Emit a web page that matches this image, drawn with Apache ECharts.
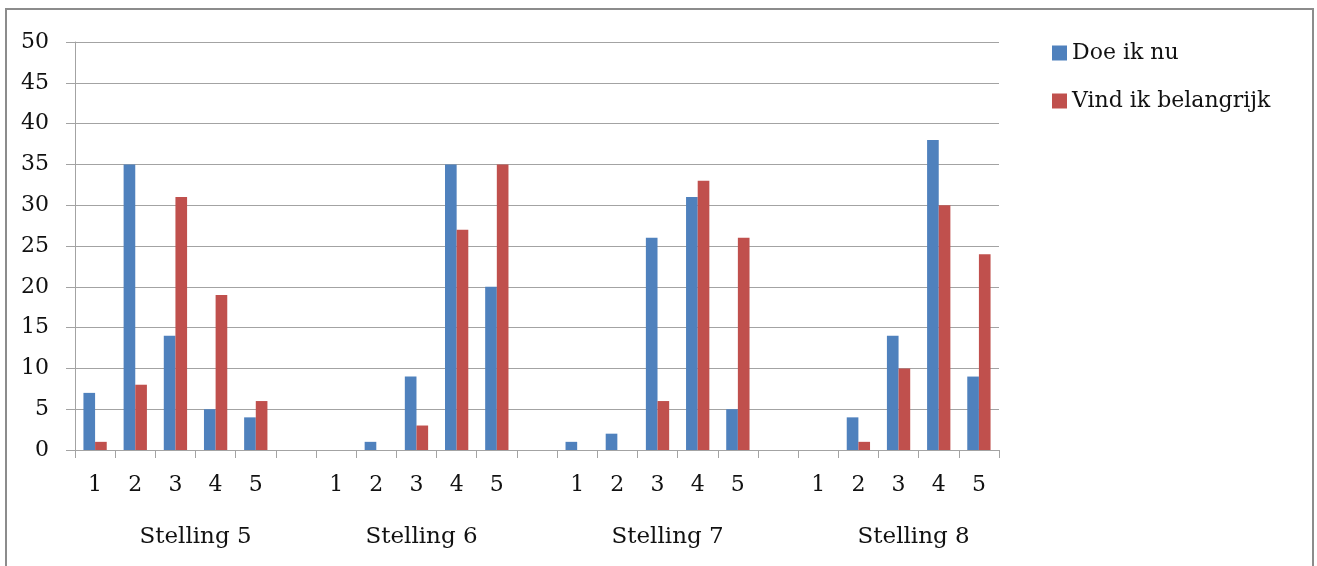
<!DOCTYPE html>
<html>
<head>
<meta charset="utf-8">
<script src="https://cdn.jsdelivr.net/npm/echarts@6/dist/echarts.min.js"></script>
<style>
  html, body { margin: 0; padding: 0; background: #fff; }
  #chart { position: absolute; left: 0; top: 0; width: 1317px; height: 566px; }
  #frame { position: absolute; left: 5px; top: 8px; width: 1305px; height: 600px;
           border: 2px solid #8c8c8c; pointer-events: none; }
</style>
</head>
<body>
<div id="chart"></div>
<div id="frame"></div>
<script>
// Answer scale 1..5 per statement; an empty slot separates the statements
const scaleLabels = ['1', '2', '3', '4', '5'];
const statements = ['Stelling 5', 'Stelling 6', 'Stelling 7', 'Stelling 8'];
const seriesNames = ['Doe ik nu', 'Vind ik belangrijk'];

// Counts per statement, answers 1..5
const doeIkNu = [
  [7, 35, 14, 5, 4],
  [0, 1, 9, 35, 20],
  [1, 2, 26, 31, 5],
  [0, 4, 14, 38, 9]
];
const vindIkBelangrijk = [
  [1, 8, 31, 19, 6],
  [0, 0, 3, 27, 35],
  [0, 0, 6, 33, 26],
  [0, 1, 10, 30, 24]
];

const yTicks = { min: 0, max: 50, interval: 5 };

// Flatten into one category axis with a blank slot between statements
const categories = [];
const blue = [];
const red = [];
statements.forEach((s, i) => {
  if (i > 0) { categories.push(''); blue.push(null); red.push(null); }
  scaleLabels.forEach((lab, j) => {
    categories.push(lab);
    blue.push(doeIkNu[i][j]);
    red.push(vindIkBelangrijk[i][j]);
  });
});

// Where each statement name sits along the category axis (in category units)
const statementLabelAt = [3, 8.625, 14.75, 20.875];

const serif = 'DejaVu Serif';
const gridColor = '#a3a3a3';
const textColor = '#111';

const chart = echarts.init(document.getElementById('chart'));
chart.setOption({
  animation: false,
  backgroundColor: '#ffffff',
  grid: { left: 75, right: 318, top: 42, bottom: 116, containLabel: false },
  legend: {
    orient: 'vertical',
    left: 1047,
    top: 37,
    itemWidth: 15,
    itemHeight: 15,
    itemGap: 26,
    icon: 'rect',
    textStyle: { fontFamily: serif, fontSize: 22, color: textColor },
    data: seriesNames
  },
  xAxis: [
    {
      type: 'category',
      data: categories,
      boundaryGap: true,
      axisLine: { show: true, lineStyle: { color: gridColor, width: 1 } },
      axisTick: { show: true, length: 8, lineStyle: { color: gridColor } },
      axisLabel: { interval: 0, margin: 24, fontFamily: serif, fontSize: 22, color: textColor }
    },
    {
      type: 'value',
      position: 'bottom',
      min: 0,
      max: categories.length,
      interval: 0.125,
      axisLine: { show: false },
      axisTick: { show: false },
      splitLine: { show: false },
      axisLabel: {
        margin: 76,
        fontFamily: serif,
        fontSize: 23,
        color: textColor,
        showMinLabel: true,
        showMaxLabel: true,
        formatter: function (v) {
          for (let k = 0; k < statements.length; k++) {
            if (Math.abs(v - statementLabelAt[k]) < 0.01) return statements[k];
          }
          return '';
        }
      }
    }
  ],
  yAxis: {
    type: 'value',
    min: yTicks.min,
    max: yTicks.max,
    interval: yTicks.interval,
    axisLine: { show: true, lineStyle: { color: gridColor, width: 1 } },
    axisTick: { show: true, length: 9, lineStyle: { color: gridColor } },
    splitLine: { show: true, lineStyle: { color: gridColor, width: 1 } },
    axisLabel: { margin: 26, fontFamily: serif, fontSize: 22, color: textColor }
  },
  series: [
    {
      name: seriesNames[0],
      type: 'bar',
      xAxisIndex: 0,
      data: blue,
      barGap: '0%',
      barCategoryGap: '42%',
      itemStyle: { color: '#4f81bd' }
    },
    {
      name: seriesNames[1],
      type: 'bar',
      xAxisIndex: 0,
      data: red,
      barGap: '0%',
      barCategoryGap: '42%',
      itemStyle: { color: '#c0504d' }
    }
  ]
});
</script>
</body>
</html>
